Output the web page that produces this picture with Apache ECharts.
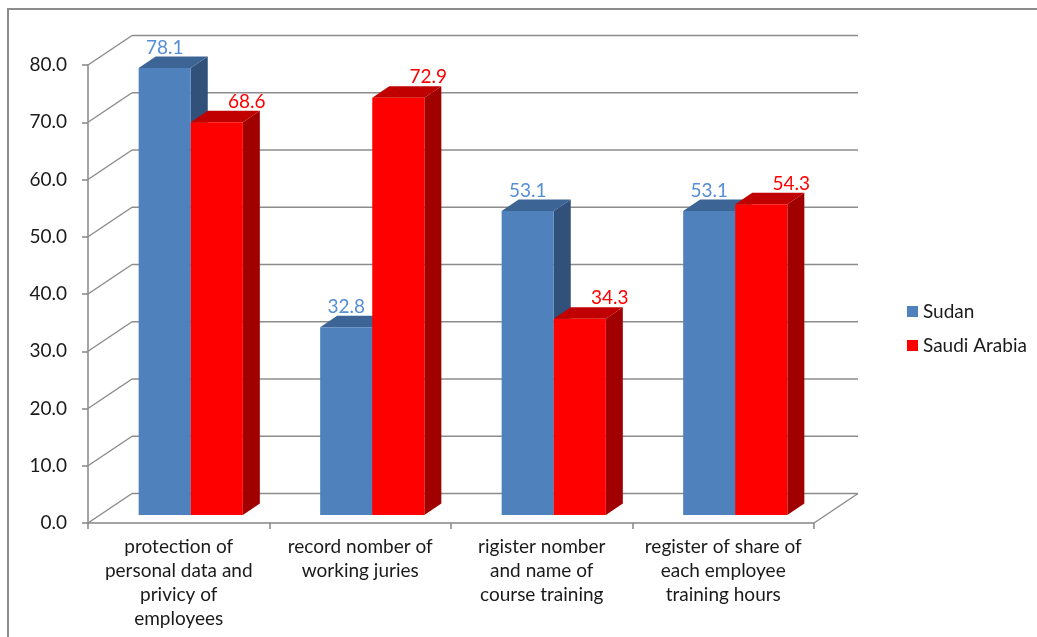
<!DOCTYPE html>
<html><head><meta charset="utf-8">
<script src="https://cdn.jsdelivr.net/npm/echarts@6/dist/echarts.min.js"></script>
<style>html,body{margin:0;padding:0;background:#fff}#c{width:1037px;height:637px}</style>
</head><body><div id="c"></div>
<script>
const categories = [
  "protection of\npersonal data and\nprivicy of\nemployees",
  "record nomber of\nworking juries",
  "rigister nomber\nand name of\ncourse training",
  "register of share of\neach employee\ntraining hours"
];
const seriesNames = ["Sudan", "Saudi Arabia"];
const sudan = [78.1, 32.8, 53.1, 53.1];
const saudi = [68.6, 72.9, 34.3, 54.3];
const yTicks = [0, 10, 20, 30, 40, 50, 60, 70, 80];

const FONT = 'Lato';
const WALL_DX = 44, WALL_DY = -29.5;
const BAR_DX = 12, BAR_DY = -8;
const DEPTH_DX = 17, DEPTH_DY = -11.5;
const BAR_FRAC = 0.287;

function wallRender(params, api) {
  const v = api.value(1);
  const p = api.coord([0, v]);
  const bw = api.size([1, 0])[0];
  const left = p[0] - bw / 2;
  const right = left + bw * categories.length;
  const y = p[1];
  const style = { stroke: '#8c8c8c', lineWidth: 1.5 };
  const children = [
    { type: 'line', shape: { x1: left, y1: y, x2: left + WALL_DX, y2: y + WALL_DY }, style },
    { type: 'line', shape: { x1: left + WALL_DX, y1: y + WALL_DY, x2: right + WALL_DX, y2: y + WALL_DY }, style }
  ];
  if (params.dataIndex === 0) {
    children.push({ type: 'line', shape: { x1: right, y1: y, x2: right + WALL_DX, y2: y + WALL_DY }, style });
  }
  return { type: 'group', children };
}

function barRenderer(side, colors, labelColor, labelShift) {
  return function (params, api) {
    const i = api.value(0), v = api.value(1);
    const top = api.coord([i, v]);
    const base = api.coord([i, 0]);
    const bw = api.size([1, 0])[0];
    const w = bw * BAR_FRAC;
    const x0 = top[0] + BAR_DX + (side === 0 ? -w : 0);
    const x1 = x0 + w;
    const yT = top[1] + BAR_DY, yB = base[1] + BAR_DY;
    return {
      type: 'group',
      children: [
        { type: 'polygon', shape: { points: [[x1, yT], [x1 + DEPTH_DX, yT + DEPTH_DY], [x1 + DEPTH_DX, yB + DEPTH_DY], [x1, yB]] }, style: { fill: colors.side } },
        { type: 'polygon', shape: { points: [[x0, yT], [x0 + DEPTH_DX, yT + DEPTH_DY], [x1 + DEPTH_DX, yT + DEPTH_DY], [x1, yT]] }, style: { fill: colors.top } },
        { type: 'rect', shape: { x: x0, y: yT, width: w, height: yB - yT }, style: { fill: colors.front } },
        { type: 'text', x: (x0 + x1) / 2 + labelShift, y: yT + DEPTH_DY - 9,
          style: { text: v.toFixed(1), fill: labelColor, font: '19px ' + FONT, align: 'center', verticalAlign: 'middle' } }
      ]
    };
  };
}

const chart = echarts.init(document.getElementById('c'), null, { renderer: 'canvas' });
chart.setOption({
  animation: false,
  backgroundColor: '#fff',
  textStyle: { fontFamily: FONT },
  graphic: [{
    type: 'rect', z: -10, silent: true,
    shape: { x: 8, y: 9, width: 1200, height: 800 },
    style: { fill: 'none', stroke: '#8c8c8c', lineWidth: 2 }
  }],
  grid: { left: 88, right: 223, top: 65, bottom: 114, containLabel: false, outerBoundsMode: 'none' },
  legend: {
    orient: 'vertical', left: 902, top: 297, itemWidth: 11, itemHeight: 11, itemGap: 15,
    icon: 'rect', data: seriesNames,
    textStyle: { fontFamily: FONT, fontSize: 19, color: '#1a1a1a' }
  },
  xAxis: {
    type: 'category', data: categories,
    axisLine: { lineStyle: { color: '#868686', width: 1.5 } },
    axisTick: { show: true, length: 6, interval: 0, lineStyle: { color: '#868686', width: 1.5 } },
    axisLabel: { interval: 0, margin: 12, fontFamily: FONT, fontSize: 19, lineHeight: 24, color: '#1a1a1a' },
    splitLine: { show: false }
  },
  yAxis: {
    type: 'value', min: 0, max: 80, interval: 10,
    axisLine: { show: true, lineStyle: { color: '#868686', width: 1.5 } },
    axisTick: { show: true, length: 6, lineStyle: { color: '#868686', width: 1.5 } },
    axisLabel: { margin: 21, fontFamily: FONT, fontSize: 19, color: '#1a1a1a', formatter: v => v.toFixed(1) },
    splitLine: { show: false }
  },
  series: [
    { type: 'custom', name: 'wall', silent: true, clip: false, renderItem: wallRender,
      encode: { x: 0, y: 1 }, data: yTicks.map(v => [0, v]), z: 1 },
    { type: 'custom', name: seriesNames[0], clip: false, itemStyle: { color: '#4f81bd' },
      renderItem: barRenderer(0, { front: '#4f81bd', top: '#3c6494', side: '#31507a' }, '#558ed5', 0),
      encode: { x: 0, y: 1 }, data: sudan.map((v, i) => [i, v]), z: 2 },
    { type: 'custom', name: seriesNames[1], clip: false, itemStyle: { color: '#ff0000' },
      renderItem: barRenderer(1, { front: '#ff0000', top: '#c00000', side: '#a00000' }, '#ff0000', 30),
      encode: { x: 0, y: 1 }, data: saudi.map((v, i) => [i, v]), z: 3 }
  ]
});
</script>
</body></html>
